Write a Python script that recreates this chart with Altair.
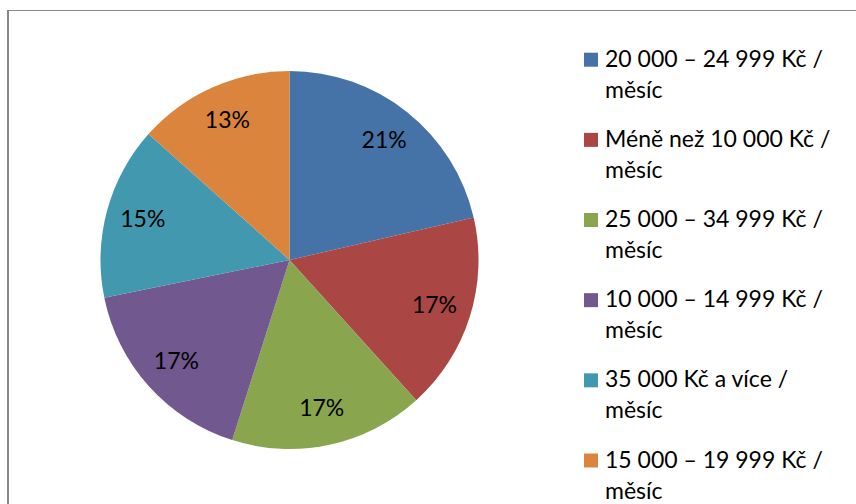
import altair as alt
import pandas as pd

# Data (clockwise from 12 o'clock)
categories = [
    "20 000 – 24 999 Kč /\nměsíc",
    "Méně než 10 000 Kč /\nměsíc",
    "25 000 – 34 999 Kč /\nměsíc",
    "10 000 – 14 999 Kč /\nměsíc",
    "35 000 Kč a více /\nměsíc",
    "15 000 – 19 999 Kč /\nměsíc",
]
values = [21.4, 16.9, 16.6, 16.9, 14.8, 13.4]
shown = ["21%", "17%", "17%", "17%", "15%", "13%"]
colors = ["#4572A7", "#AA4643", "#89A54E", "#71588F", "#4198AF", "#DB843D"]

df = pd.DataFrame({
    "cat": categories,
    "value": values,
    "pct": shown,
    "idx": list(range(len(categories))),
})

FONT = "Lato"
W, H = 849, 494
CX, CY, R = 282.5, 250, 189

color = alt.Color("cat:N", scale=alt.Scale(domain=categories, range=colors), legend=None)

base = alt.Chart(df).encode(
    theta=alt.Theta("value:Q", stack=True),
    order=alt.Order("idx:Q"),
    color=color,
)

pie = base.mark_arc(radius=R).encode(x=alt.value(CX), y=alt.value(CY))
pie_text = base.mark_text(radius=152, font=FONT, fontSize=23, color="black").encode(
    text="pct:N", x=alt.value(CX), y=alt.value(CY), color=alt.value("black")
)

ypos = alt.Y("cat:N", sort=categories, axis=None,
             scale=alt.Scale(type="point", range=[49.7, 450.5], padding=0))

leg_sq = alt.Chart(df).mark_point(shape="square", filled=True, size=196, opacity=1).encode(
    x=alt.value(584), y=ypos, color=color
)
leg_txt = alt.Chart(df).mark_text(
    align="left", baseline="middle", lineBreak="\n", lineHeight=31,
    font=FONT, fontSize=23, color="black"
).encode(x=alt.value(598), y=ypos, text="cat:N")

frame_top = alt.Chart(df).mark_rule(color="#888888", strokeWidth=1).encode(
    x=alt.value(0), x2=alt.value(W + 10), y=alt.value(0.5)
)
frame_left = alt.Chart(df).mark_rule(color="#888888", strokeWidth=2).encode(
    x=alt.value(1), y=alt.value(0), y2=alt.value(H + 10)
)

chart = alt.layer(pie, pie_text, leg_sq, leg_txt, frame_top, frame_left).properties(
    width=W, height=H,
    autosize=alt.AutoSizeParams(type="none"),
    padding={"left": 7, "top": 10, "right": 0, "bottom": 0},
).configure_view(stroke=None).configure(font=FONT)

chart.save("out.html", embed_options={"renderer": "svg", "actions": False})
